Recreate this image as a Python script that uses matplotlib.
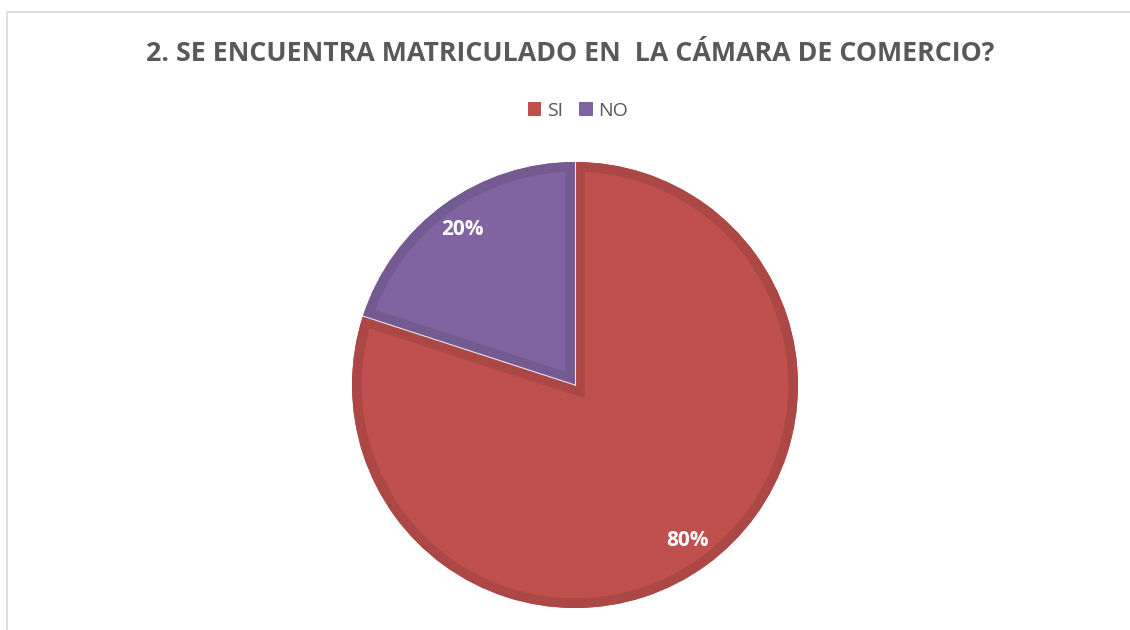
import matplotlib
matplotlib.use("Agg")
import matplotlib.pyplot as plt
import numpy as np
from matplotlib.patches import Rectangle, Wedge

categories = ["SI", "NO"]
values = [80, 20]
colors = ["#C0504D", "#8064A2"]
edge_colors = ["#AB4744", "#735A91"]
title = "2. SE ENCUENTRA MATRICULADO EN  LA CÁMARA DE COMERCIO?"

W, H = 1130, 630
fig = plt.figure(figsize=(W / 100, H / 100), dpi=100)
fig.patch.set_facecolor("white")

# chart frame
fig.add_artist(Rectangle((7 / W, -0.1), 1.2, (H - 12) / H + 0.1, transform=fig.transFigure,
                         fill=False, edgecolor="#D9D9D9", linewidth=1.2))

cx, cy, r = 575, 385, 223
ax = fig.add_axes([(cx - r) / W, (H - cy - r) / H, 2 * r / W, 2 * r / H])
wedges, texts, autotexts = ax.pie(
    values, colors=colors, startangle=90, counterclock=False,
    autopct="%1.0f%%", pctdistance=0.86, radius=1.0,
    wedgeprops=dict(linewidth=0),
    textprops=dict(color="white", fontsize=15, fontweight="bold", family="Open Sans"),
)
# inner darker stroke for each slice (clipped to the slice)
for w, ec in zip(wedges, edge_colors):
    sw = Wedge(w.center, w.r, w.theta1, w.theta2, fill=False, edgecolor=ec,
               linewidth=14, zorder=w.get_zorder() + 0.1)
    ax.add_patch(sw)
    sw.set_clip_path(w)
for t in autotexts:
    t.set_zorder(5)

# thin light separators between slices
total = sum(values)
ang = 90.0
for v in values:
    a = np.deg2rad(ang)
    ax.plot([0, np.cos(a)], [0, np.sin(a)], color="#E8E0EE", lw=0.8, zorder=4)
    ang -= 360.0 * v / total

ax.set_xlim(-1, 1)
ax.set_ylim(-1, 1)
ax.set_aspect("equal")
ax.axis("off")

fig.text(570 / W, 1 - 54 / H, title, ha="center", va="center", fontsize=19.3,
         fontweight="bold", color="#595959", family="Open Sans")

# legend
handles = [Rectangle((0, 0), 1, 1, facecolor=c, edgecolor="none") for c in colors]
leg = fig.legend(handles, categories, loc="center", bbox_to_anchor=(578 / W, 1 - 111 / H),
                 ncol=2, frameon=False, handlelength=0.7, handleheight=0.7,
                 handletextpad=0.3, columnspacing=0.8,
                 prop=dict(family="Open Sans", size=14))
for t in leg.get_texts():
    t.set_color("#595959")

fig.savefig("out.png", dpi=100)
